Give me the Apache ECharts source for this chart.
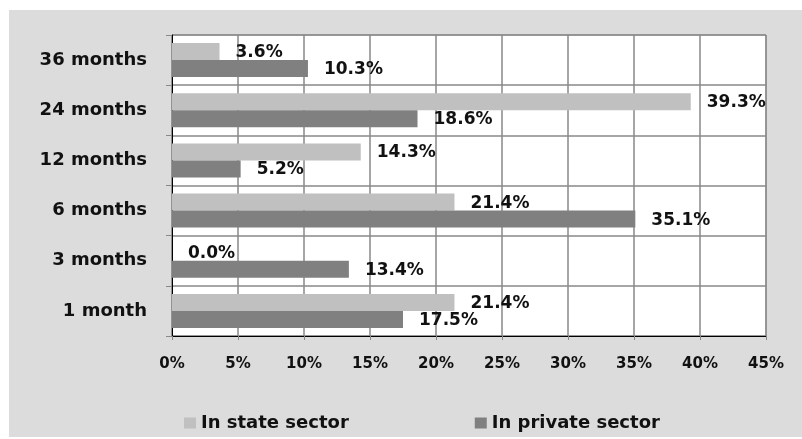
<!DOCTYPE html>
<html>
<head>
<meta charset="utf-8">
<script src="https://cdn.jsdelivr.net/npm/echarts@6/dist/echarts.min.js"></script>
<style>
html,body{margin:0;padding:0;background:#fff;}
#bg{position:absolute;left:9px;top:10px;width:793px;height:427px;background:#dcdcdc;}
#chart{position:absolute;left:0;top:0;width:802px;height:439px;}
</style>
</head>
<body>
<div id="bg"></div>
<div id="chart"></div>
<script>
const categories = ['1 month', '3 months', '6 months', '12 months', '24 months', '36 months'];
const stateSector = [21.4, 0.0, 21.4, 14.3, 39.3, 3.6];
const privateSector = [17.5, 13.4, 35.1, 5.2, 18.6, 10.3];
const seriesNames = ['In state sector', 'In private sector'];
const xTicks = { min: 0, max: 45, interval: 5 };

const FONT = 'DejaVu Sans';
const chart = echarts.init(document.getElementById('chart'), null, { renderer: 'canvas' });
const labelCfg = {
  show: true,
  position: 'right',
  distance: 16,
  color: '#111',
  fontFamily: FONT,
  fontWeight: 'bold',
  fontSize: 17,
  offset: [0, 1],
  formatter: p => p.value.toFixed(1) + '%'
};
chart.setOption({
  backgroundColor: 'transparent',
  animation: false,
  textStyle: { fontFamily: FONT },
  legend: {
    left: 184,
    top: 414,
    padding: 0,
    itemWidth: 12,
    itemHeight: 11,
    itemGap: 126,
    icon: 'rect',
    textStyle: { fontFamily: FONT, fontWeight: 'bold', fontSize: 18, color: '#111' },
    data: seriesNames
  },
  grid: {
    left: 172, top: 35, right: 36, bottom: 103,
    show: true, backgroundColor: '#fff', borderColor: '#888', borderWidth: 1,
    containLabel: false
  },
  xAxis: {
    type: 'value',
    min: xTicks.min, max: xTicks.max, interval: xTicks.interval,
    axisLine: { show: true, lineStyle: { color: '#000', width: 1 } },
    axisTick: { show: true, length: 4, lineStyle: { color: '#888' } },
    splitLine: { show: true, lineStyle: { color: '#888', width: 1.5 } },
    axisLabel: { formatter: '{value}%', fontFamily: FONT, fontWeight: 'bold', fontSize: 15, color: '#111', margin: 21 }
  },
  yAxis: {
    type: 'category',
    data: categories,
    axisLine: { show: true, lineStyle: { color: '#000', width: 1 } },
    axisTick: { show: true, length: 6, lineStyle: { color: '#888' } },
    splitLine: { show: true, lineStyle: { color: '#888', width: 1.5 } },
    axisLabel: { fontFamily: FONT, fontWeight: 'bold', fontSize: 18, color: '#111', margin: 25 }
  },
  series: [
    { name: seriesNames[0], type: 'bar', data: stateSector, barWidth: 17, barGap: '0%',
      itemStyle: { color: '#c0c0c0' }, label: labelCfg },
    { name: seriesNames[1], type: 'bar', data: privateSector, barWidth: 17, barGap: '0%',
      itemStyle: { color: '#808080' }, label: labelCfg }
  ]
});
</script>
</body>
</html>
